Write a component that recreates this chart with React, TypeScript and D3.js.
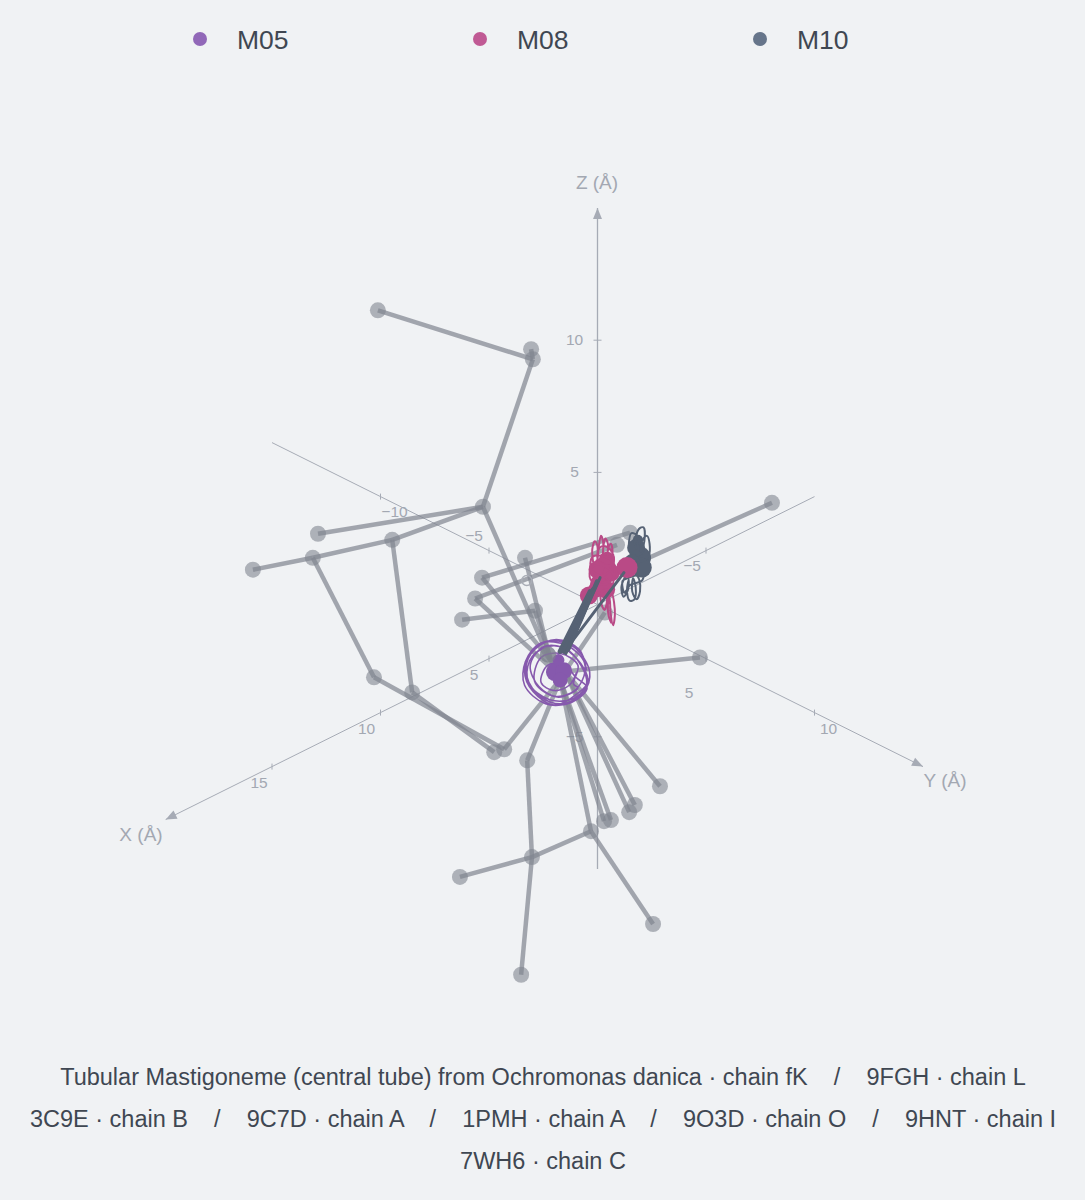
import React from "react";
import * as d3 from "d3";

// ---- data (Å) -------------------------------------------------------------
type P = [number, number, number];
const seriesNames = ["M05", "M08", "M10"];
const seriesColors = ["#8659ad", "#b94a86", "#566274"];
const legendColors = ["#9168b8", "#c05a94", "#66758a"];

// grey side-chain atoms
const atoms: Record<string, P> = {
  a1: [5.06, -5.06, 11.13], a2: [1.49, -1.49, 9.28], a3: [1.53, -1.53, 9.66], a4: [2.64, -2.64, 3.7],
  a5: [6.44, -6.44, 2.68], a6: [4.73, -4.73, 2.45], a7: [6.56, -6.56, 1.77], a8: [7.94, -7.94, 1.32],
  a9: [5.15, -5.15, -2.75], a10: [4.27, -4.27, -3.32], a11: [2.38, -2.38, -5.58], a12: [2.15, -2.15, -5.47],
  a13: [1.62, -1.62, -5.89], a14: [1.51, -1.51, -9.55], a15: [3.17, -3.17, -10.3], a16: [1.76, -1.76, -14.0],
  a17: [0.15, -0.15, -8.57], a18: [-1.28, 1.28, -12.08], a19: [-0.15, 0.15, -8.19], a20: [-0.31, 0.31, -8.15],
  a21: [-0.73, 0.73, -7.85], a22: [-0.86, 0.86, -7.58], a23: [-1.44, 1.44, -6.87], a24: [-2.36, 2.36, -2.0],
  a25: [1.67, -1.67, 1.77], a26: [2.66, -2.66, 1.02], a27: [2.82, -2.82, 0.23], a28: [3.12, -3.12, -0.57],
  a29: [1.44, -1.44, -0.23], a30: [-0.75, 0.75, 2.72], a31: [-0.45, 0.45, 2.26], a32: [-4.02, 4.02, 3.85],
  a33: [-0.17, 0.17, -0.3], a34: [1.14, -1.14, -1.89],
  // hub ends, hidden below the helices
  h1: [0.98, -0.98, -2.53], h2: [0.86, -0.86, -2.83], h3: [1.09, -1.09, -2.08], h4: [0.75, -0.75, -2.53],
  h5: [-0.98, 0.98, 1.62],
};
const hiddenAtoms = ["h1", "h2", "h3", "h4", "h5"];
const bonds: [string, string][] = [
  ["a1", "a2"], ["a2", "a3"], ["a2", "a4"], ["a4", "a5"], ["a4", "a6"], ["a6", "a7"], ["a7", "a8"],
  ["a7", "a9"], ["a6", "a10"], ["a9", "a12"], ["a10", "a11"], ["a12", "h2"], ["a13", "h2"], ["a13", "a14"],
  ["a14", "a15"], ["a14", "a16"], ["a14", "a17"], ["a17", "a18"], ["a17", "h2"], ["a19", "h2"], ["a20", "h2"],
  ["a21", "h4"], ["a22", "h4"], ["a23", "h4"], ["a24", "h4"], ["a25", "h3"], ["a26", "h3"], ["a27", "h1"],
  ["a28", "a29"], ["a29", "h1"], ["a4", "h1"], ["a26", "a30"], ["a27", "a31"], ["a32", "h5"], ["a33", "h4"],
];
const ghostAtom: P = [1.63, -1.63, 0.91];

// backbone traces as [y, z]; these lie on x = -y
const traceM05: [number, number][] = [
  [-0.25, -2.5], [-0.42, -1.7], [-0.95, -1.32], [-1.45, -1.7], [-1.68, -2.5], [-1.48, -3.3], [-0.98, -3.8], [-0.45, -3.35],
  [-0.22, -2.9], [-0.5, -2.0], [-1.0, -1.55], [-1.5, -1.95], [-1.62, -2.75], [-1.3, -3.5], [-0.8, -3.75], [-0.32, -3.3],
  [-0.18, -2.55], [-0.55, -1.6], [-1.15, -1.38], [-1.6, -2.05], [-1.6, -2.95], [-1.1, -3.6], [-0.55, -3.55], [-0.25, -3.0],
  [-0.38, -2.3], [-0.75, -1.65], [-1.25, -1.6], [-1.55, -2.3], [-1.35, -3.1], [-0.9, -3.5], [-0.45, -3.15],
  [-0.55, -3.0], [-0.45, -2.3], [-0.85, -1.85], [-1.3, -2.0], [-1.45, -2.9], [-1.05, -3.45], [-0.62, -3.35], [-0.36, -2.9],
  [-0.3, -2.2], [-0.7, -1.55], [-1.3, -1.45], [-1.66, -2.15], [-1.68, -3.05], [-1.2, -3.75], [-0.6, -3.7], [-0.24, -3.15],
  [-0.5, -2.75], [-0.78, -2.25], [-1.15, -2.3], [-1.3, -2.95], [-1.0, -3.25], [-0.65, -3.05], [-0.48, -2.55],
];
const traceM08: [number, number][] = [
  [-0.1, 1.6], [-0.12, 2.1], [-0.06, 2.4], [0.0, 2.2], [0.0, 1.7], [0.03, 2.2], [0.08, 2.6], [0.13, 2.35], [0.12, 1.8],
  [0.14, 2.25], [0.18, 2.5], [0.24, 2.3], [0.22, 1.8], [0.26, 2.2], [0.31, 2.3], [0.35, 1.9], [0.32, 1.5],
  [0.14, 1.5], [0.0, 1.75], [0.05, 2.15], [0.2, 2.2], [0.36, 1.9], [0.34, 1.4], [0.12, 1.1], [-0.14, 1.3],
  [-0.12, 1.8], [0.1, 1.85], [0.34, 1.6], [0.38, 1.05], [0.15, 0.75], [-0.16, 0.95], [-0.14, 1.4], [0.1, 1.5], [0.34, 1.2],
  [0.34, 0.7], [0.12, 0.4], [-0.1, 0.6], [-0.08, 1.0], [0.14, 1.05], [0.34, 0.7],
  [0.32, 0.6], [0.1, 0.5], [0.08, 0.1], [0.16, -0.2], [0.22, 0.15], [0.2, 0.5], [0.28, 0.2], [0.3, -0.3], [0.36, -0.78],
  [0.4, -0.4], [0.38, 0.1], [0.32, 0.5], [0.24, 0.0], [0.26, -0.45], [0.32, -0.7],
];
const traceM10: [number, number][] = [
  [0.72, 2.2], [0.78, 2.7], [0.92, 2.6], [0.9, 2.1], [0.86, 2.3], [0.95, 2.85], [1.06, 2.92], [1.08, 2.4], [1.0, 2.0],
  [1.02, 2.4], [1.14, 2.6], [1.2, 2.3], [1.18, 1.85], [1.1, 1.7], [0.95, 1.6], [0.8, 1.5], [0.66, 1.1],
  [0.62, 1.0], [0.55, 0.65], [0.6, 0.3], [0.7, 0.55], [0.72, 0.95], [0.68, 0.55], [0.74, 0.15], [0.85, 0.2], [0.88, 0.65],
  [0.82, 1.0], [0.8, 0.5], [0.9, 0.2], [0.98, 0.5], [0.96, 0.95], [0.9, 1.1],
  [0.7, 1.0], [0.58, 0.9], [0.62, 0.45], [0.76, 0.75], [1.02, 0.9], [1.08, 1.2],
];
// filled residues as [y, z, relative size]
const residuesM05: [number, number, number][] = [[-0.98, -2.55, 9], [-0.78, -2.5, 8.5], [-0.86, -2.85, 7.5], [-0.9, -2.1, 6]];
const residuesM08: [number, number, number][] = [
  [-0.2, 0.34, 9], [0.15, 1.32, 12.5], [0.06, 0.79, 10], [0.22, 1.7, 8], [0.0, 1.32, 9], [0.32, 1.2, 8.5], [0.2, 0.57, 9], [-0.03, 0.57, 8],
];
const residueM08Front: [number, number, number] = [0.68, 1.4, 10.5];
const residuesM10: [number, number, number][] = [[0.98, 1.77, 11], [1.02, 1.4, 10], [0.89, 2.15, 9], [0.79, 1.6, 8], [0.93, 2.45, 5]];
// M10 connecting strands [y1, z1, y2, z2, width]
const strandsM10: [number, number, number, number, number][] = [
  [-0.86, -1.77, -0.17, 0.49, 5], [-0.77, -1.77, -0.1, 0.57, 5], [-0.68, -1.7, -0.01, 0.87, 4.5], [-0.73, -1.85, 0.06, 1.02, 3], [-0.59, -1.4, 0.61, 1.21, 3],
];

const xTicks = [-5, 5, 10, 15];
const yTicks = [-10, -5, 5, 10];
const zTicks = [-5, 5, 10];
const xRange = [-10, 19.9];
const yRange = [-15, 15];
const zRange = [-10, 15];
const captionLines = [
  "Tubular Mastigoneme (central tube) from Ochromonas danica · chain fK    /    9FGH · chain L",
  "3C9E · chain B    /    9C7D · chain A    /    1PMH · chain A    /    9O3D · chain O    /    9HNT · chain I",
  "7WH6 · chain C",
];

// ---- projection --------------------------------------------------------------
const W = 1085, H = 1200;
const originX = 597.5;
const horiz = d3.scaleLinear().domain([0, 1]).range([0, 21.7]);
const vert = d3.scaleLinear().domain([0, 1]).range([0, 10.8]);
const zScale = d3.scaleLinear().domain(zRange).range([869, 208]);
const proj = (x: number, y: number, z: number): [number, number] => [
  originX + horiz(y) - horiz(x),
  zScale(z) + vert(x) + vert(y),
];
const onPlane = (y: number, z: number) => proj(-y, y, z);
const trace = d3.line<[number, number]>().x((d) => onPlane(d[0], d[1])[0]).y((d) => onPlane(d[0], d[1])[1]).curve(d3.curveCatmullRom.alpha(0.5));

const axisCol = "#a6abb5";
const tickCol = "#a3a8b2";
const font = "'Liberation Sans', Arial, sans-serif";

const xLabelOff: Record<number, [number, number]> = { [-5]: [-14, 15], 5: [-15, 16], 10: [-14, 16], 15: [-13, 16] };
const yLabelOff: Record<number, [number, number]> = { [-10]: [14, 15], [-5]: [-15, -15], 5: [-17, 34], 10: [14, 16] };

function Arrow({ from, to }: { from: [number, number]; to: [number, number] }) {
  const ang = (Math.atan2(to[1] - from[1], to[0] - from[0]) * 180) / Math.PI;
  return <path d="M0,0L-11,-4.5L-11,4.5Z" fill={axisCol} transform={`translate(${to[0]},${to[1]}) rotate(${ang})`} />;
}

export default function App() {
  const grayLine = "rgba(130,135,146,0.72)";
  const grayNode = "rgba(128,133,144,0.6)";
  const xa = [proj(xRange[0], 0, 0), proj(xRange[1], 0, 0)] as [number, number][];
  const ya = [proj(0, yRange[0], 0), proj(0, yRange[1], 0)] as [number, number][];
  const za = [proj(0, 0, zRange[0]), proj(0, 0, zRange[1])] as [number, number][];
  return (
    <svg width={W} height={H} viewBox={`0 0 ${W} ${H}`} style={{ position: "absolute", left: 0, top: 0, background: "#f0f2f4" }} fontFamily={font}>
      <rect width={W} height={H} fill="#f0f2f4" />
      {/* legend */}
      {seriesNames.map((n, i) => (
        <g key={n} transform={`translate(${200 + i * 280},39)`}>
          <circle r={7} fill={legendColors[i]} />
          <text x={37} y={10} fontSize={26.5} fill="#3f4752">{n}</text>
        </g>
      ))}
      {/* axes */}
      {[xa, ya, za].map((a, i) => (
        <line key={i} x1={a[0][0]} y1={a[0][1]} x2={a[1][0]} y2={a[1][1]} stroke={axisCol} strokeWidth={i === 2 ? 1.3 : 1} />
      ))}
      <Arrow from={xa[0]} to={xa[1]} />
      <Arrow from={ya[0]} to={ya[1]} />
      <Arrow from={za[0]} to={za[1]} />
      {xTicks.map((t) => {
        const [px, py] = proj(t, 0, 0);
        const o = xLabelOff[t];
        return (
          <g key={"x" + t}>
            <line x1={px} x2={px} y1={py - 3} y2={py + 3} stroke={axisCol} />
            <text x={px + o[0]} y={py + o[1] + 5} textAnchor="middle" fontSize={15.5} fill={tickCol}>{t < 0 ? "−" + -t : t}</text>
          </g>
        );
      })}
      {yTicks.map((t) => {
        const [px, py] = proj(0, t, 0);
        const o = yLabelOff[t];
        return (
          <g key={"y" + t}>
            <line x1={px} x2={px} y1={py - 3} y2={py + 3} stroke={axisCol} />
            <text x={px + o[0]} y={py + o[1] + 5} textAnchor="middle" fontSize={15.5} fill={tickCol}>{t < 0 ? "−" + -t : t}</text>
          </g>
        );
      })}
      {zTicks.map((t) => {
        const [px, py] = proj(0, 0, t);
        return (
          <g key={"z" + t}>
            <line x1={px - 4} x2={px + 4} y1={py} y2={py} stroke={axisCol} />
            <text x={px - 23} y={py + 5} textAnchor="middle" fontSize={15.5} fill={tickCol}>{t < 0 ? "−" + -t : t}</text>
          </g>
        );
      })}
      <text x={141} y={841} textAnchor="middle" fontSize={19} fill={tickCol}>X (Å)</text>
      <text x={945} y={787} textAnchor="middle" fontSize={19} fill={tickCol}>Y (Å)</text>
      <text x={597} y={189} textAnchor="middle" fontSize={19} fill={tickCol}>Z (Å)</text>

      {/* grey bonds and atoms */}
      {bonds.map(([a, b], i) => {
        const p = proj(...atoms[a]);
        const q = proj(...atoms[b]);
        return <line key={i} x1={p[0]} y1={p[1]} x2={q[0]} y2={q[1]} stroke={grayLine} strokeWidth={4.5} />;
      })}
      {Object.keys(atoms).filter((k) => !hiddenAtoms.includes(k)).map((k) => {
        const [px, py] = proj(...atoms[k]);
        return <circle key={k} cx={px} cy={py} r={8} fill={grayNode} />;
      })}
      <circle cx={proj(...ghostAtom)[0]} cy={proj(...ghostAtom)[1]} r={5} fill="none" stroke="#a9adb6" strokeWidth={1.4} />

      {/* M08 */}
      {residuesM08.map((r, i) => <circle key={i} cx={onPlane(r[0], r[1])[0]} cy={onPlane(r[0], r[1])[1]} r={r[2]} fill={seriesColors[1]} />)}
      <path d={trace(traceM08) || ""} fill="none" stroke={seriesColors[1]} strokeWidth={2} />
      {/* M10 */}
      {residuesM10.map((r, i) => <circle key={i} cx={onPlane(r[0], r[1])[0]} cy={onPlane(r[0], r[1])[1]} r={r[2]} fill={seriesColors[2]} />)}
      <path d={trace(traceM10) || ""} fill="none" stroke={seriesColors[2]} strokeWidth={2} />
      <circle cx={onPlane(residueM08Front[0], residueM08Front[1])[0]} cy={onPlane(residueM08Front[0], residueM08Front[1])[1]} r={residueM08Front[2]} fill={seriesColors[1]} />
      {/* M05 */}
      <path d={trace(traceM05) || ""} fill="none" stroke={seriesColors[0]} strokeWidth={1.6} />
      {residuesM05.map((r, i) => <circle key={i} cx={onPlane(r[0], r[1])[0]} cy={onPlane(r[0], r[1])[1]} r={r[2]} fill={seriesColors[0]} />)}
      <circle cx={proj(...atoms.a34)[0]} cy={proj(...atoms.a34)[1]} r={8} fill={grayNode} />
      {/* M10 strands */}
      {strandsM10.map((s, i) => {
        const p = onPlane(s[0], s[1]);
        const q = onPlane(s[2], s[3]);
        return <line key={i} x1={p[0]} y1={p[1]} x2={q[0]} y2={q[1]} stroke={seriesColors[2]} strokeWidth={s[4]} strokeLinecap="round" />;
      })}

      {/* caption */}
      {captionLines.map((l, i) => (
        <text key={i} x={543} y={1085 + i * 42} textAnchor="middle" fontSize={23.5} fill="#3f4752" style={{ whiteSpace: "pre" }}>{l}</text>
      ))}
    </svg>
  );
}
